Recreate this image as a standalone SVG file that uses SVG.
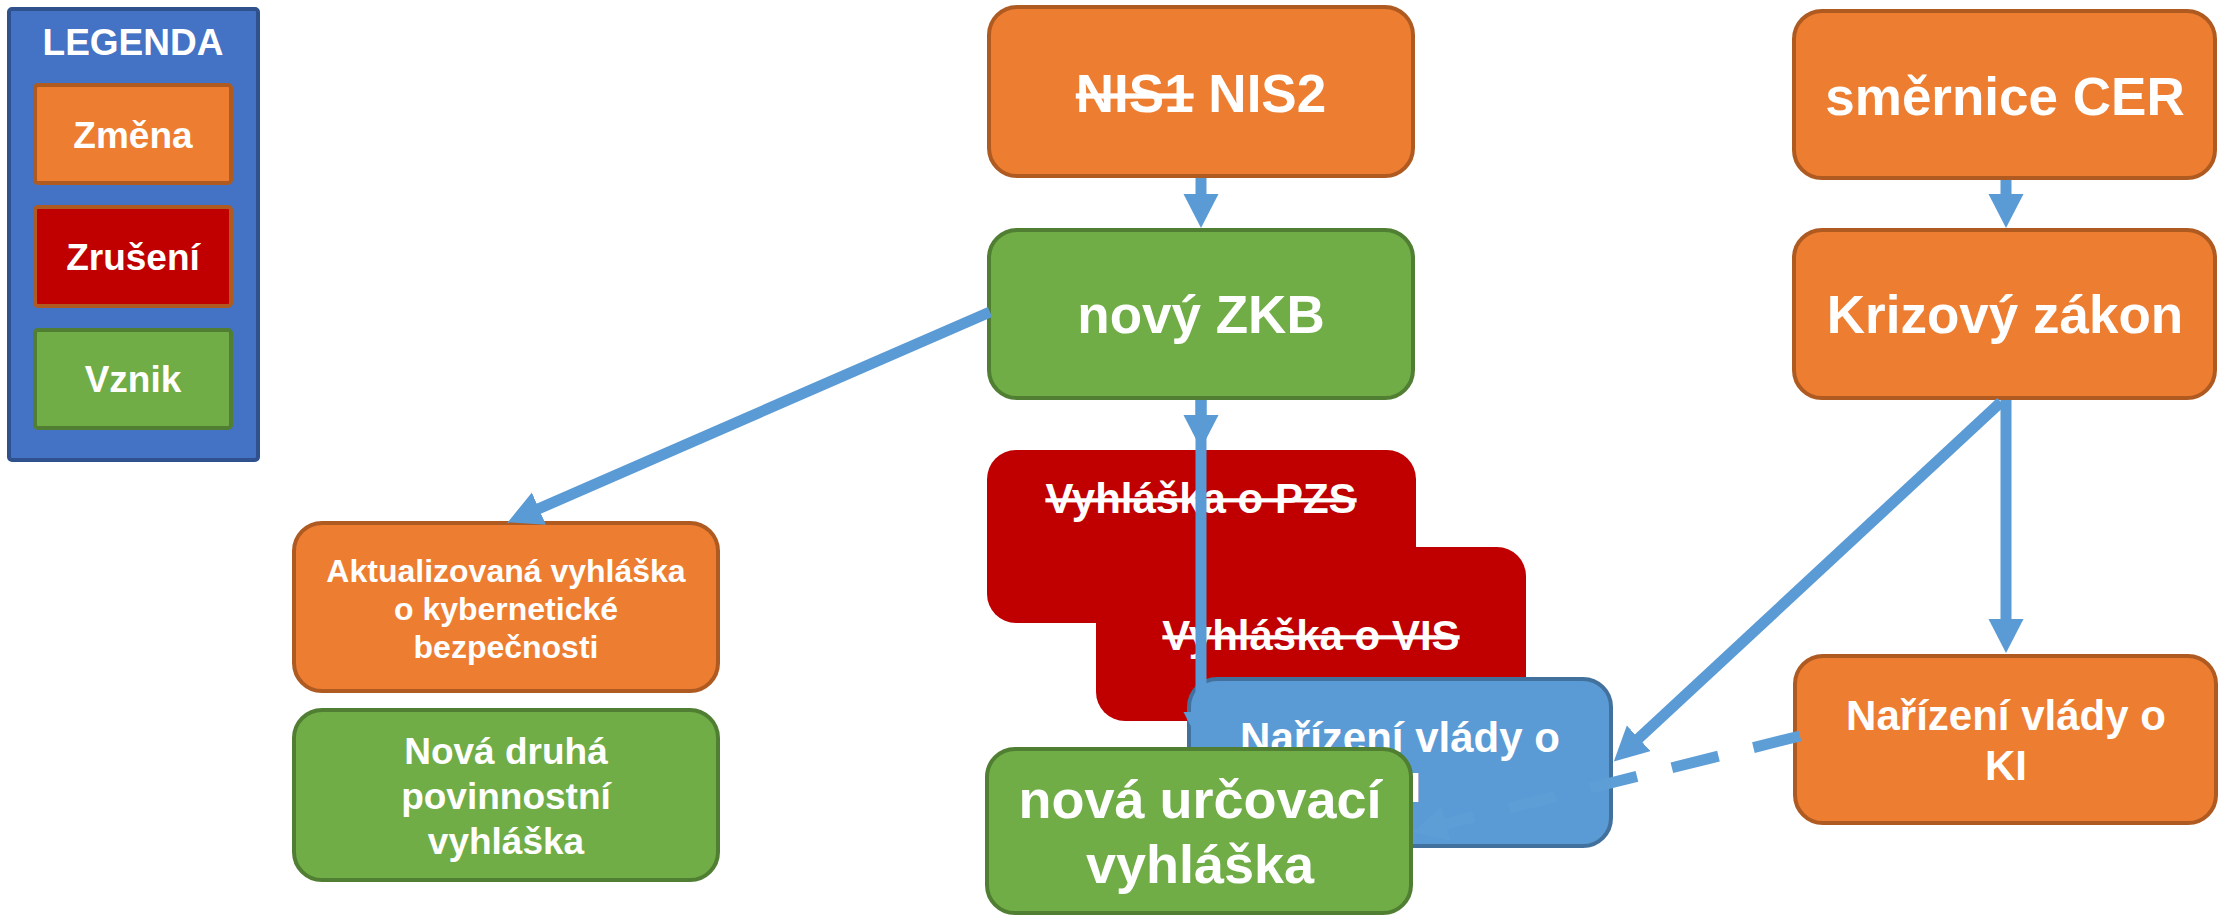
<svg xmlns="http://www.w3.org/2000/svg" width="2220" height="915" viewBox="0 0 2220 915">
<style>
.t{font-family:"Liberation Sans",Arial,sans-serif;font-weight:bold;fill:#fff;text-anchor:middle}
.orange{fill:#ED7D31;stroke:#AE5A21;stroke-width:4}
.green{fill:#70AD47;stroke:#507E32;stroke-width:4}
.red{fill:#C00000}
.redl{fill:#C00000;stroke:#AE5A21;stroke-width:4}
.blue{fill:#5B9BD5;stroke:#41719C;stroke-width:4}
.conn{stroke:#5B9BD5;stroke-width:11;fill:none;marker-end:url(#arrow)}
.dash{stroke:#5E9ED7;stroke-dasharray:48 36}
.strike{text-decoration:line-through}
</style>
<defs>
<marker id="arrow" markerUnits="userSpaceOnUse" markerWidth="36" markerHeight="36" refX="1" refY="17.5" orient="auto">
<path d="M0,0 L34,17.5 L0,35 z" fill="#5B9BD5"/>
</marker>
<marker id="arrowd" markerUnits="userSpaceOnUse" markerWidth="36" markerHeight="36" refX="1" refY="17.5" orient="auto">
<path d="M0,0 L34,17.5 L0,35 z" fill="#5E9ED7"/>
</marker>
</defs>
<rect width="2220" height="915" fill="#fff"/>

<g id="legend">
<rect x="9" y="9" width="249" height="451" rx="3" fill="#4472C4" stroke="#2F528F" stroke-width="4"/>
<text class="t" x="133" y="55" font-size="37">LEGENDA</text>
<rect class="orange" x="35" y="85" width="196" height="98" rx="3"/>
<text class="t" x="133" y="148" font-size="37">Změna</text>
<rect class="redl" x="35" y="207" width="196" height="99" rx="3"/>
<text class="t" x="133" y="270" font-size="37">Zrušení</text>
<rect class="green" x="35" y="330" width="196" height="98" rx="3"/>
<text class="t" x="133" y="392" font-size="37">Vznik</text>
</g>

<g id="nis">
<rect class="orange" x="989" y="7" width="424" height="169" rx="28"/>
<text class="t" x="1201" y="112" font-size="53"><tspan class="strike">NIS1</tspan> NIS2</text>
</g>
<g id="zkb">
<rect class="green" x="989" y="230" width="424" height="168" rx="28"/>
<text class="t" x="1201" y="333" font-size="53">nový ZKB</text>
</g>
<g id="cer">
<rect class="orange" x="1794" y="11" width="421" height="167" rx="28"/>
<text class="t" x="2005" y="115" font-size="53">směrnice CER</text>
</g>
<g id="krizovy">
<rect class="orange" x="1794" y="230" width="421" height="168" rx="28"/>
<text class="t" x="2005" y="333" font-size="53">Krizový zákon</text>
</g>
<g id="aktualizovana">
<rect class="orange" x="294" y="523" width="424" height="168" rx="28"/>
<text class="t" x="506" y="582" font-size="32">Aktualizovaná vyhláška</text>
<text class="t" x="506" y="620" font-size="32">o kybernetické</text>
<text class="t" x="506" y="658" font-size="32">bezpečnosti</text>
</g>
<g id="nova-druha">
<rect class="green" x="294" y="710" width="424" height="170" rx="28"/>
<text class="t" x="506" y="764" font-size="37">Nová druhá</text>
<text class="t" x="506" y="809" font-size="37">povinnostní</text>
<text class="t" x="506" y="854" font-size="37">vyhláška</text>
</g>
<g id="pzs">
<rect class="red" x="987" y="450" width="429" height="173" rx="29"/>
<text class="t" x="1201" y="513" font-size="42"><tspan class="strike">Vyhláška o PZS</tspan></text>
</g>
<g id="vis">
<rect class="red" x="1096" y="547" width="430" height="174" rx="29"/>
<text class="t" x="1311" y="650" font-size="42"><tspan class="strike">Vyhláška o VIS</tspan></text>
</g>
<g id="narizeni-blue">
<rect class="blue" x="1189" y="679" width="422" height="167" rx="28"/>
<text class="t" x="1400" y="752" font-size="42">Nařízení vlády o</text>
<text class="t" x="1400" y="802" font-size="42">KI</text>
</g>
<g id="narizeni-ki">
<rect class="orange" x="1795" y="656" width="421" height="167" rx="28"/>
<text class="t" x="2006" y="730" font-size="42">Nařízení vlády o</text>
<text class="t" x="2006" y="780" font-size="42">KI</text>
</g>

<g id="connectors">
<line class="conn" x1="1201" y1="178" x2="1201" y2="195"/>
<line class="conn" x1="1201" y1="400" x2="1201" y2="416"/>
<line class="conn" x1="1201" y1="400" x2="1201" y2="713"/>
<line class="conn" x1="990" y1="312" x2="538" y2="509"/>
<line class="conn" x1="2006" y1="180" x2="2006" y2="195"/>
<line class="conn" x1="2006" y1="400" x2="2006" y2="620"/>
<line class="conn" x1="2001" y1="402" x2="1638" y2="739"/>
<line class="conn dash" x1="1800" y1="736" x2="1445" y2="824" style="marker-end:url(#arrowd)"/>
</g>

<g id="nova-urcovaci">
<rect class="green" x="987" y="749" width="424" height="164" rx="28"/>
<text class="t" x="1200" y="818" font-size="54">nová určovací</text>
<text class="t" x="1200" y="883" font-size="54">vyhláška</text>
</g>
</svg>
